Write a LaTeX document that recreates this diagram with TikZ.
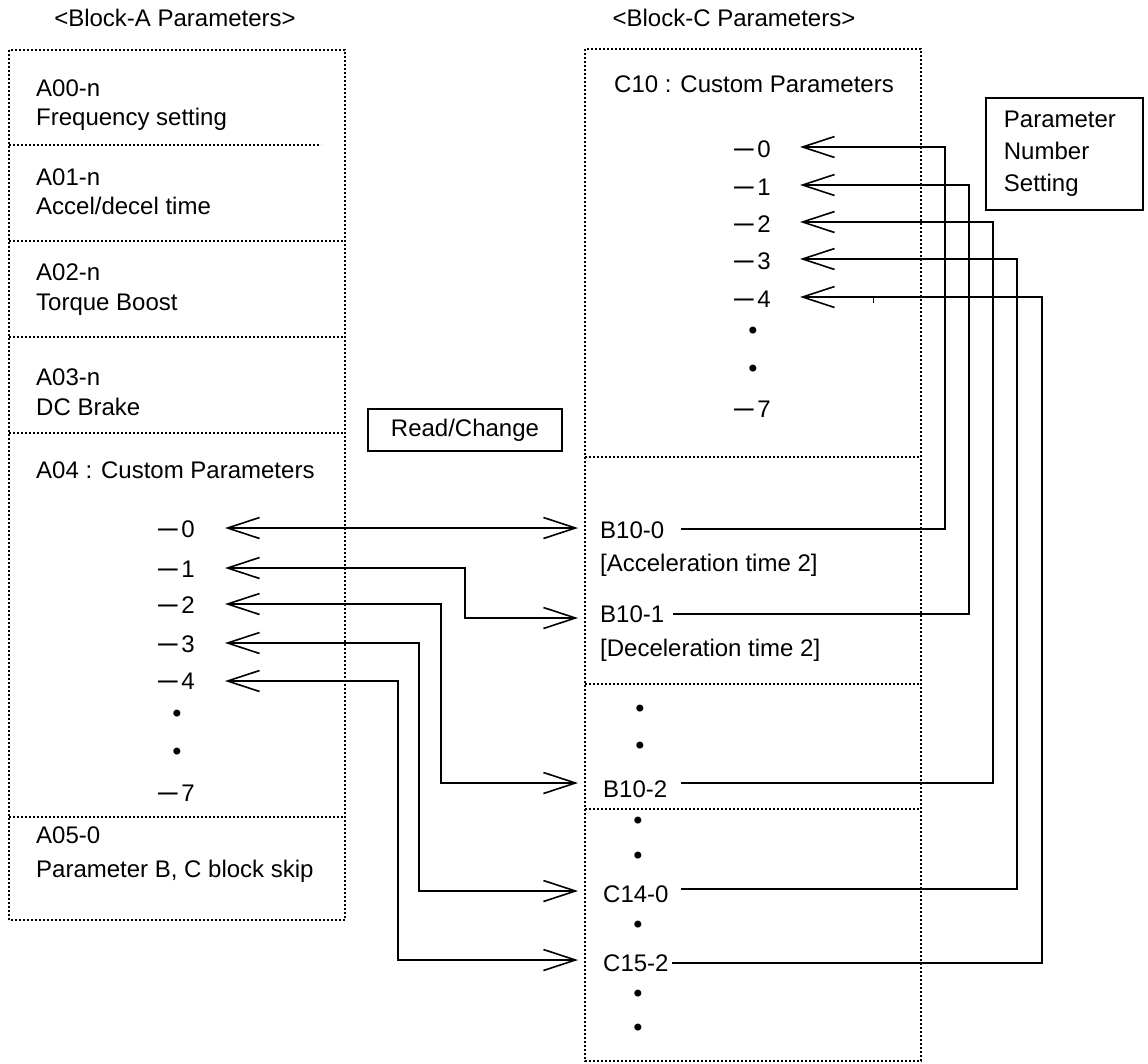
\documentclass[tikz,border=0pt]{standalone}
\usepackage{fontspec}
\usepackage{graphicx}
\setmainfont{Liberation Sans}
\newfontfamily\dvs{DejaVu Sans}
\newcommand{\mn}{\scalebox{1.3}[1]{\dvs −}\kern0.5pt}
\newcommand{\bul}{{\dvs\fontsize{24pt}{24pt}\selectfont •}}
\usetikzlibrary{arrows.meta}
\begin{document}
\begin{tikzpicture}[x=1pt,y=-1pt,
  every node/.style={font=\fontsize{24pt}{32pt}\selectfont, inner sep=0pt},
  txt/.style={anchor=base west},
  num/.style={anchor=base east},
  dotn/.style={anchor=center},
  frame/.style={line width=2pt, dash pattern=on 2pt off 2pt},
  solidbox/.style={draw, line width=1.8pt},
  conn/.style={line width=1.6pt},
  >={Straight Barb[length=32pt,width=21pt]}]
\useasboundingbox (0,0) rectangle (1148,1063);

% titles
\node[anchor=base] (tA) at (175,26) {<Block-A Parameters>};
\node[anchor=base] (tC) at (734,26) {<Block-C Parameters>};

% left frame
\draw[frame] (9,50) rectangle (345,920);
\draw[frame] (9,145) -- (321,145);
\draw[frame] (9,241) -- (345,241);
\draw[frame] (9,337) -- (345,337);
\draw[frame] (9,433) -- (345,433);
\draw[frame] (9,817) -- (345,817);

% right frame
\draw[frame] (585,49) rectangle (921,1061);
\draw[frame] (585,457) -- (921,457);
\draw[frame] (585,684) -- (921,684);
\draw[frame] (585,809) -- (921,809);

% left texts
\node[txt] (a00) at (36,96) {A00-n};
\node[txt] (a00t) at (36,125) {Frequency setting};
\node[txt] (a01) at (36,185) {A01-n};
\node[txt] (a01t) at (36,214) {Accel/decel time};
\node[txt] (a02) at (36,280) {A02-n};
\node[txt] (a02t) at (36,310) {Torque Boost};
\node[txt] (a03) at (36,385) {A03-n};
\node[txt] (a03t) at (36,415) {DC Brake};
\node[txt] (a04) at (36,478) {A04 : Custom Parameters};
\node[num] (ln0) at (195,537) {\mn 0};
\node[num] (ln1) at (195,577) {\mn 1};
\node[num] (ln2) at (195,613) {\mn 2};
\node[num] (ln3) at (195,652) {\mn 3};
\node[num] (ln4) at (195,689) {\mn 4};
\node[dotn] (ld1) at (177,716) {\bul};
\node[dotn] (ld2) at (177,754) {\bul};
\node[num] (ln7) at (195,801) {\mn 7};
\node[txt] (a05) at (36,843) {A05-0};
\node[txt] (a05t) at (36,877) {Parameter B, C block skip};

% right texts
\node[txt] (c10) at (614,92) {C10 : Custom Parameters};
\node[num] (rn0) at (771,157) {\mn 0};
\node[num] (rn1) at (771,195) {\mn 1};
\node[num] (rn2) at (771,232) {\mn 2};
\node[num] (rn3) at (771,269) {\mn 3};
\node[num] (rn4) at (771,307) {\mn 4};
\node[dotn] (rd1) at (753,333) {\bul};
\node[dotn] (rd2) at (753,371) {\bul};
\node[num] (rn7) at (771,417) {\mn 7};

\node[txt] (b100) at (600,538) {B10-0};
\node[txt] (b100t) at (600,571) {[Acceleration time 2]};
\node[txt] (b101) at (600,622) {B10-1};
\node[txt] (b101t) at (600,656) {[Deceleration time 2]};
\node[dotn] (bd1) at (640,711) {\bul};
\node[dotn] (bd2) at (640,748) {\bul};
\node[txt] (b102) at (603,797) {B10-2};
\node[dotn] (cd1) at (638,823) {\bul};
\node[dotn] (cd2) at (638,858) {\bul};
\node[txt] (c140) at (603,902) {C14-0};
\node[dotn] (cd3) at (638,927) {\bul};
\node[txt] (c152) at (603,971) {C15-2};
\node[dotn] (cd4) at (638,996) {\bul};
\node[dotn] (cd5) at (638,1030) {\bul};

% labelled boxes
\node[solidbox, minimum width=194pt, minimum height=42pt] (rc) at (465,430) {Read/Change};
\node[solidbox, anchor=north west, minimum width=157pt, minimum height=112pt,
      text width=121pt, align=left, inner xsep=18pt] (pns) at (985,97) {Parameter\\Number\\Setting};

% left connector coordinates
\coordinate (l0a) at (225,528); \coordinate (l0b) at (578,528);
\coordinate (l1a) at (225,568); \coordinate (l1b) at (578,618);
\coordinate (l2a) at (225,604); \coordinate (l2b) at (578,783);
\coordinate (l3a) at (225,643); \coordinate (l3b) at (578,891);
\coordinate (l4a) at (225,681); \coordinate (l4b) at (578,960);

\draw[conn,<->] (l0a) -- (l0b);
\draw[conn,<->] (l1a) -- (465,568) -- (465,618) -- (l1b);
\draw[conn,<->] (l2a) -- (441,604) -- (441,783) -- (l2b);
\draw[conn,<->] (l3a) -- (419,643) -- (419,891) -- (l3b);
\draw[conn,<->] (l4a) -- (398,681) -- (398,960) -- (l4b);

% right connector coordinates
\coordinate (r0s) at (681,529); \coordinate (r0t) at (800,147);
\coordinate (r1s) at (673,614); \coordinate (r1t) at (800,185);
\coordinate (r2s) at (681,783); \coordinate (r2t) at (800,222);
\coordinate (r3s) at (681,889); \coordinate (r3t) at (800,259);
\coordinate (r4s) at (672,963); \coordinate (r4t) at (800,297);

\draw[conn,->] (r0s) -- (945,529) -- (945,147) -- (r0t);
\draw[conn,->] (r1s) -- (969,614) -- (969,185) -- (r1t);
\draw[conn,->] (r2s) -- (993,783) -- (993,222) -- (r2t);
\draw[conn,->] (r3s) -- (1017,889) -- (1017,259) -- (r3t);
\draw[conn,->] (r4s) -- (1042,963) -- (1042,297) -- (r4t);
\draw[line width=1pt] (873,297) -- (873,303);
\end{tikzpicture}
\end{document}
